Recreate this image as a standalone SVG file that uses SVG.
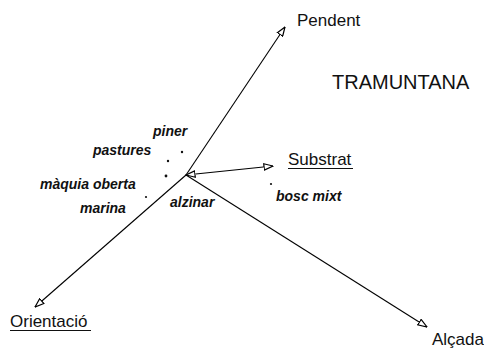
<svg xmlns="http://www.w3.org/2000/svg" width="484" height="349" viewBox="0 0 484 349">
<style>
.ax{stroke:#000;stroke-width:1.1;fill:none}
.lbl{font-family:"Liberation Sans",Arial,sans-serif;font-size:17px;fill:#111}
.big{font-family:"Liberation Sans",Arial,sans-serif;font-size:20px;fill:#111}
.sm{font-family:"Liberation Sans",Arial,sans-serif;font-size:14px;font-weight:bold;font-style:italic;fill:#111}
.ul{stroke:#111;stroke-width:1.2}
.dot{fill:#111}
</style>
<defs>
<marker id="ah" viewBox="0 0 10 8" refX="9.5" refY="4" markerWidth="10" markerHeight="8" markerUnits="userSpaceOnUse" orient="auto-start-reverse">
<path d="M0.5,0.8 L9.5,4 L0.5,7.2 Z" fill="#fff" stroke="#000" stroke-width="1.2"/>
</marker>
</defs>
<g id="connectors">
<line class="ax" x1="186" y1="175" x2="285" y2="27" marker-end="url(#ah)"/>
<line class="ax" x1="186" y1="175" x2="35" y2="307" marker-end="url(#ah)"/>
<line class="ax" x1="186" y1="175" x2="273" y2="166" marker-start="url(#ah)" marker-end="url(#ah)"/>
<line class="ax" x1="186" y1="175" x2="427" y2="327" marker-end="url(#ah)"/>
</g>
<g id="pendent"><text class="lbl" x="297" y="26">Pendent</text></g>
<g id="tramuntana"><text class="big" x="332" y="89">TRAMUNTANA</text></g>
<g id="substrat"><text class="lbl" x="288" y="165">Substrat</text><line class="ul" x1="288" y1="168.5" x2="353" y2="168.5"/></g>
<g id="orientacio"><text class="lbl" x="10" y="327">Orientació</text><line class="ul" x1="10" y1="330.5" x2="91" y2="330.5"/></g>
<g id="alcada"><text class="lbl" x="432" y="345">Alçada</text></g>
<g id="piner"><text class="sm" x="153" y="136">piner</text><circle class="dot" cx="182" cy="152" r="1.2"/></g>
<g id="pastures"><text class="sm" x="93" y="155">pastures</text><circle class="dot" cx="168" cy="161" r="1.2"/></g>
<g id="maquia"><text class="sm" x="40" y="189">màquia oberta</text><circle class="dot" cx="166" cy="176" r="1.4"/></g>
<g id="marina"><text class="sm" x="80" y="213">marina</text><circle class="dot" cx="146" cy="197" r="1.1"/></g>
<g id="alzinar"><text class="sm" x="170" y="207">alzinar</text></g>
<g id="bosc"><text class="sm" x="276" y="201">bosc mixt</text><circle class="dot" cx="271" cy="184" r="1.1"/></g>
</svg>
